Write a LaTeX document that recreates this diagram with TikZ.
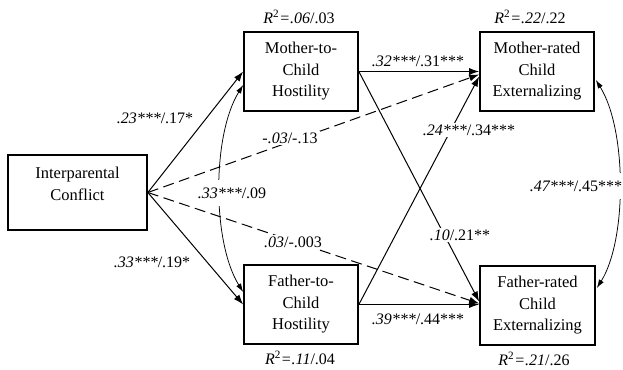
\documentclass[tikz,border=0pt]{standalone}
\usepackage{fontspec}
\setmainfont{Liberation Serif}
\usetikzlibrary{arrows.meta}
\begin{document}
\begin{tikzpicture}[x=1pt,y=-1pt,
 box/.style={draw, line width=1.7pt, minimum width=114pt, minimum height=79pt, inner sep=0pt},
 boxtxt/.style={align=center, font=\fontsize{16.5}{21.5}\selectfont, inner sep=0pt},
 lab/.style={font=\fontsize{16}{19}\selectfont, fill=white, inner sep=2pt},
 curvelab/.style={lab, inner ysep=7.5pt, inner xsep=1pt},
 rlab/.style={font=\fontsize{16}{19}\selectfont, inner sep=1pt},
 conn/.style={line width=1pt, -{Latex[length=10pt,width=7pt]}},
 dconn/.style={conn, dash pattern=on 11pt off 5.5pt},
 cconn/.style={line width=0.75pt, {Latex[length=8.5pt,width=5.5pt]}-{Latex[length=8.5pt,width=5.5pt]}},
]
\useasboundingbox (0,0) rectangle (623,369);

% boxes
\node[box, minimum width=139pt, minimum height=75pt] (ic) at (77.5,192.5) {};
\node[boxtxt] (ictext) at (77.5,184) {Interparental\\Conflict};
\node[box, boxtxt] (mch) at (301,71.5) {Mother-to-\\Child\\Hostility};
\node[box, boxtxt] (fch) at (301,304.5) {Father-to-\\Child\\Hostility};
\node[box, boxtxt] (mr) at (537,71.5) {Mother-rated\\Child\\Externalizing};
\node[box, boxtxt, minimum width=115pt] (fr) at (537.5,305.5) {Father-rated\\Child\\Externalizing};

% R^2 labels
\node[rlab] (r1) at (299,17) {\textit{R}\textsuperscript{2}\textit{=.06}/.03};
\node[rlab] (r2) at (530,17) {\textit{R}\textsuperscript{2}\textit{=.22}/.22};
\node[rlab] (r3) at (300,358) {\textit{R}\textsuperscript{2}\textit{=.11}/.04};
\node[rlab] (r4) at (534,359) {\textit{R}\textsuperscript{2}\textit{=.21}/.26};

% connectors
\draw[conn] (ic.east) -- (mch.west);
\draw[conn] (ic.east) -- (fch.west);
\draw[dconn] (ic.east) -- ([yshift=-3pt]mr.west);
\draw[dconn] (ic.east) -- ([yshift=2pt]fr.west);
\draw[conn] (mch.east) -- (mr.west);
\draw[conn] (mch.east) -- ([yshift=4pt]fr.west);
\draw[conn] (fch.east) -- ([yshift=-5pt]mr.west);
\draw[conn] (fch.east) -- (fch.east -| fr.west);
\draw[cconn] ([yshift=-13.5pt]mch.west) .. controls (212,135) and (212,242) .. ([yshift=12.5pt]fch.west);
\draw[cconn] ([xshift=1pt,yshift=-8.5pt]mr.east) .. controls (627,130) and (627,240) .. ([xshift=1pt,yshift=17.5pt]fr.east);

% path labels
\node[lab] (l1) at (155,118) {\textit{.23***}/.17*};
\node[lab] (l2) at (152,262) {\textit{.33***}/.19*};
\node[lab] (l3) at (290,138) {\textit{-.03}/-.13};
\node[lab] (l4) at (293,242) {\textit{.03}/-.003};
\node[curvelab] (l5) at (232,193) {\textit{.33***}/.09};
\node[lab] (l6) at (418,61) {\textit{.32***}/.31***};
\node[lab] (l7) at (469,130) {\textit{.24***}/.34***};
\node[lab] (l8) at (460,235) {\textit{.10}/.21**};
\node[lab] (l9) at (418,319) {\textit{.39***}/.44***};
\node[curvelab] (l10) at (576,186) {\textit{.47***}/.45***};
\end{tikzpicture}
\end{document}
